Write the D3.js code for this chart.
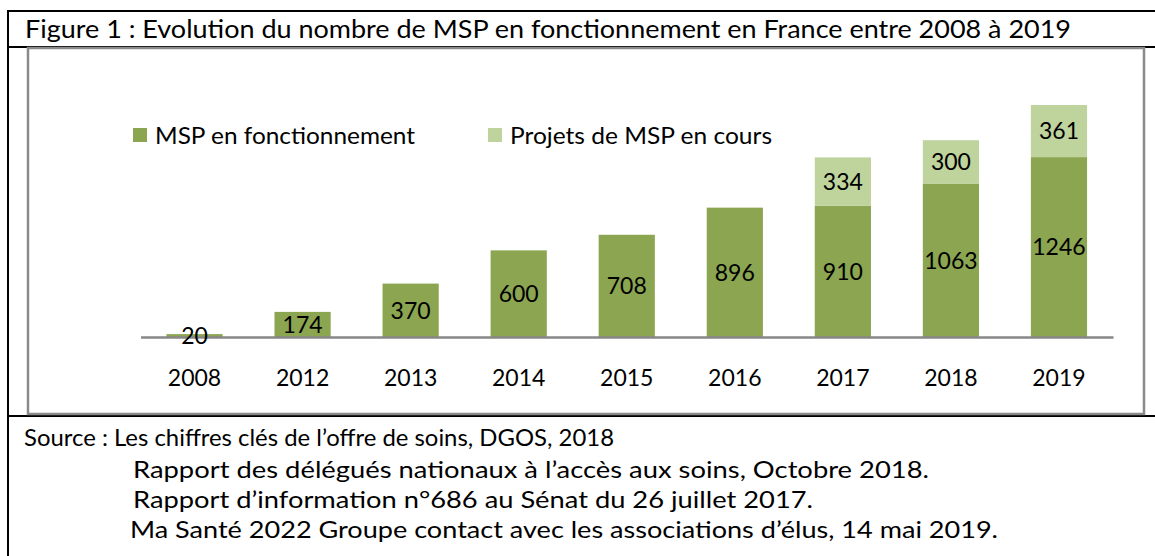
<!DOCTYPE html>
<html>
<head>
<meta charset="utf-8">
<script src="https://cdnjs.cloudflare.com/ajax/libs/d3/7.8.5/d3.min.js"></script>
<style>
  body { margin: 0; background: #fff; }
  svg text { font-family: Lato, "Open Sans", sans-serif; fill: #000; }
</style>
</head>
<body>
<svg id="chart" width="1155" height="556"></svg>
<script>
// donnees
var years = ["2008", "2012", "2013", "2014", "2015", "2016", "2017", "2018", "2019"];
var enFonction = [20, 174, 370, 600, 708, 896, 910, 1063, 1246];
var projets = [0, 0, 0, 0, 0, 0, 334, 300, 361];
var seriesNames = ["MSP en fonctionnement", "Projets de MSP en cours"];
var colors = ["#8ba550", "#bfd39c"];

var title = "Figure 1 : Evolution du nombre de MSP en fonctionnement en France entre 2008 à 2019";
var sources = [
  "Source : Les chiffres clés de l\u2019offre de soins, DGOS, 2018",
  "Rapport des délégués nationaux à l\u2019accès aux soins, Octobre 2018.",
  "Rapport d\u2019information n°686 au Sénat du 26 juillet 2017.",
  "Ma Santé 2022 Groupe contact avec les associations d\u2019élus, 14 mai 2019."
];

var svg = d3.select("#chart");

// cadre du tableau (lignes noires)
var table = svg.append("g").attr("stroke", "#000").attr("stroke-width", 2);
table.append("line").attr("x1", 8).attr("x2", 1155).attr("y1", 11).attr("y2", 11);
table.append("line").attr("x1", 8).attr("x2", 1155).attr("y1", 47).attr("y2", 47);
table.append("line").attr("x1", 8).attr("x2", 1155).attr("y1", 416).attr("y2", 416);
table.append("line").attr("x1", 8).attr("x2", 8).attr("y1", 10).attr("y2", 556);

svg.append("text")
   .attr("x", 25).attr("y", 38)
   .attr("font-size", 25)
   .attr("textLength", 1046).attr("lengthAdjust", "spacingAndGlyphs")
   .text(title);

// cadre gris du graphique
svg.append("rect")
   .attr("x", 28).attr("y", 48).attr("width", 1116).attr("height", 366)
   .attr("fill", "none").attr("stroke", "#8a8a8a").attr("stroke-width", 2.5);

// echelles
var x = d3.scaleBand().domain(years).range([140.5, 1113]).paddingInner(0.48).paddingOuter(0.24);
var y = d3.scaleLinear().domain([0, 1600]).range([337, 106]);

var stackData = years.map(function(d, i) {
  return { year: d, a: enFonction[i], b: projets[i] };
});
var stack = d3.stack().keys(["a", "b"])(stackData);

var layers = svg.append("g").selectAll("g")
   .data(stack).enter().append("g")
   .attr("fill", function(d, i) { return colors[i]; });

layers.selectAll("rect")
   .data(function(d) { return d; })
   .enter().append("rect")
   .filter(function(d) { return d[1] > d[0]; })
   .attr("x", function(d) { return x(d.data.year); })
   .attr("width", x.bandwidth())
   .attr("y", function(d) { return y(d[1]); })
   .attr("height", function(d) { return y(d[0]) - y(d[1]); });

// axe horizontal
var xAxis = d3.axisBottom(x).tickSize(0).tickPadding(33);
var ax = svg.append("g").attr("transform", "translate(0," + y(0) + ")").call(xAxis);
ax.select(".domain").attr("stroke", "#878787").attr("stroke-width", 2.5);
ax.selectAll("text").attr("font-size", 23).style("font-family", "Lato, 'Open Sans', sans-serif").attr("fill", "#000");

// etiquettes de valeurs
var labels = svg.append("g").attr("font-size", 23).attr("text-anchor", "middle");
stack.forEach(function(layer) {
  layer.forEach(function(d) {
    if (d[1] <= d[0]) return;
    labels.append("text")
      .attr("x", x(d.data.year) + x.bandwidth() / 2)
      .attr("y", (y(d[0]) + y(d[1])) / 2)
      .attr("dy", "0.36em")
      .text(d[1] - d[0]);
  });
});

// legende
var legendX = [133, 488];
var legendW = [260, 262];
var legend = svg.append("g");
seriesNames.forEach(function(n, i) {
  legend.append("rect").attr("x", legendX[i]).attr("y", 128).attr("width", 14).attr("height", 14).attr("fill", colors[i]);
  legend.append("text").attr("x", legendX[i] + 22).attr("y", 144)
    .attr("font-size", 24)
    .attr("textLength", legendW[i]).attr("lengthAdjust", "spacingAndGlyphs")
    .text(n);
});

// sources
var srcX = [24, 133, 133, 130];
var srcY = [446, 478, 508, 538];
var srcW = [590, 796, 680, 868];
sources.forEach(function(s, i) {
  svg.append("text").attr("x", srcX[i]).attr("y", srcY[i])
    .attr("font-size", 24)
    .attr("textLength", srcW[i]).attr("lengthAdjust", "spacingAndGlyphs")
    .text(s);
});
</script>
</body>
</html>
